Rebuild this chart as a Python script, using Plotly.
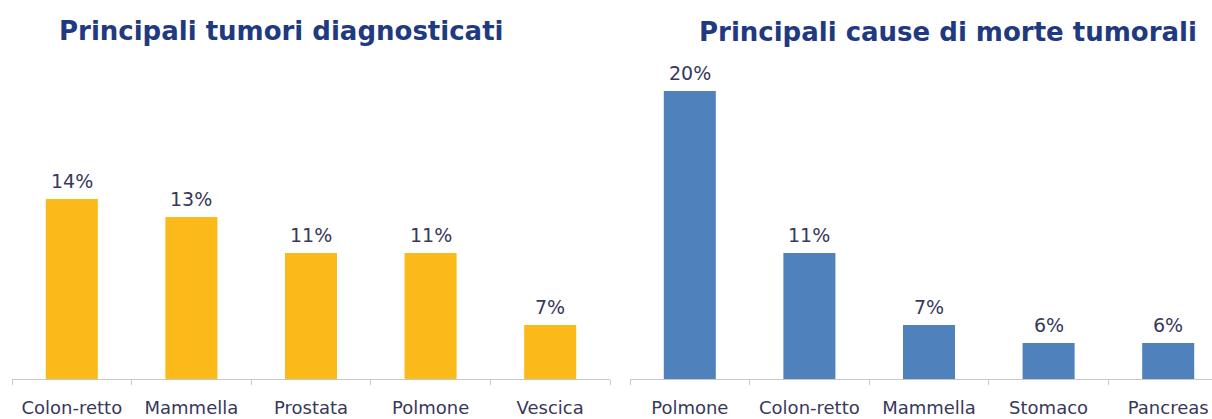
import plotly.graph_objects as go
from plotly.subplots import make_subplots

# --- data ---
diag_labels = ["Colon-retto", "Mammella", "Prostata", "Polmone", "Vescica"]
diag_values = [14, 13, 11, 11, 7]

death_labels = ["Polmone", "Colon-retto", "Mammella", "Stomaco", "Pancreas"]
death_values = [20, 11, 7, 6, 6]

titles = ["Principali tumori diagnosticati", "Principali cause di morte tumorali"]

# --- style ---
YELLOW = "#FBBA19"
BLUE = "#4F81BD"
TITLE_COLOR = "#1F3A80"
LABEL_COLOR = "#38385A"
AXIS_COLOR = "#C8C8C8"
FONT = "DejaVu Sans"

W, H = 1212, 419
CAT_PX = 119.6  # width of one category slot in px


def fx(px):
    return px / W


def fy(py):
    return 1 - py / H


fig = make_subplots(rows=1, cols=2)

panels = [(diag_labels, diag_values, YELLOW), (death_labels, death_values, BLUE)]
for col, (labels, values, color) in enumerate(panels, start=1):
    fig.add_trace(go.Bar(
        x=labels, y=values,
        marker_color=color, marker_line_width=0,
        showlegend=False,
    ), row=1, col=col)
    # value labels above the bars
    xref = "x" if col == 1 else "x2"
    yref = "y" if col == 1 else "y2"
    for lab, val in zip(labels, values):
        fig.add_annotation(
            x=lab, y=val, xref=xref, yref=yref,
            text=f"{val}%", showarrow=False,
            xanchor="center", yanchor="bottom", yshift=5,
            font=dict(family=FONT, size=19, color=LABEL_COLOR),
        )

# baseline at 379px, 18px per percentage point, axis starts at 4%
px_per_pct = 18
y_range = [4, 4 + (379 - 60) / px_per_pct]

xaxis_common = dict(
    showline=True, linecolor=AXIS_COLOR, linewidth=1,
    ticks="outside", tickson="boundaries", ticklen=5, tickcolor=AXIS_COLOR,
    tickfont=dict(family=FONT, size=18, color=LABEL_COLOR),
    ticklabelstandoff=12,
    showgrid=False, zeroline=False,
)
yaxis_common = dict(visible=False, range=y_range, showgrid=False, zeroline=False)

# right panel runs past the picture edge: cut its range at the edge
right_start = 630
right_range = [-0.5, -0.5 + (W - right_start) / CAT_PX]

fig.update_layout(
    width=W, height=H,
    margin=dict(l=0, r=0, t=0, b=0),
    paper_bgcolor="white", plot_bgcolor="white",
    bargap=0.565,
    xaxis=dict(domain=[fx(12), fx(610)], **xaxis_common),
    xaxis2=dict(domain=[fx(right_start), 1.0], range=right_range, **xaxis_common),
    yaxis=dict(domain=[fy(379), fy(60)], **yaxis_common),
    yaxis2=dict(domain=[fy(379), fy(60)], **yaxis_common),
)

# chart titles
for title, cx, cy in [(titles[0], 281, 31), (titles[1], 948, 32)]:
    fig.add_annotation(
        x=fx(cx), y=fy(cy), xref="paper", yref="paper",
        xanchor="center", yanchor="middle",
        text="<b>" + title + "</b>", showarrow=False,
        font=dict(family=FONT, size=26, color=TITLE_COLOR),
    )

# drop the default page margin so the figure fills the window exactly
fig.write_html(
    "out.html",
    config={"displayModeBar": False},
    post_script="document.body.style.margin='0';",
)
